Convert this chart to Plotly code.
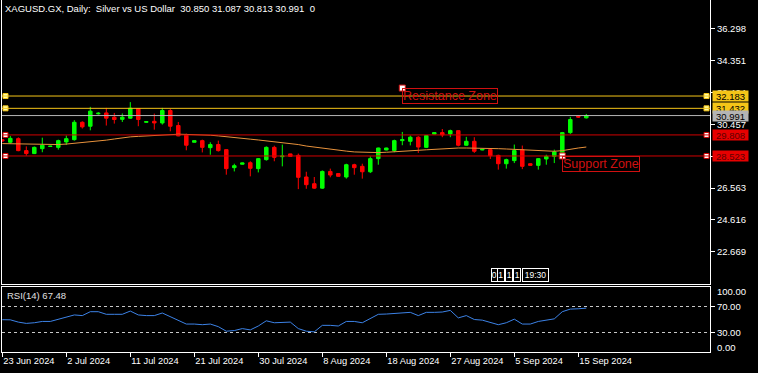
import plotly.graph_objects as go

# ---------------- data ----------------
tick_idx = [0, 8, 16, 24, 32, 40, 48, 56, 64, 72]
tick_labels = ["23 Jun 2024", "2 Jul 2024", "11 Jul 2024", "21 Jul 2024", "30 Jul 2024",
               "8 Aug 2024", "18 Aug 2024", "27 Aug 2024", "5 Sep 2024", "15 Sep 2024"]

opens = [29.52, 29.36, 29.58, 28.85, 28.67, 28.97, 29.10, 29.05, 29.38, 29.52,
         30.58, 30.34, 31.10, 31.15, 30.89, 30.76, 30.83, 31.42, 30.58, 30.64,
         30.54, 31.30, 30.38, 29.79, 29.36, 29.46, 29.03, 29.22, 28.91, 27.81,
         28.02, 28.11, 27.75, 28.30, 29.05, 28.48, 28.65, 28.56, 27.24, 26.83,
         26.56, 27.58, 27.45, 27.24, 27.99, 27.89, 27.56, 28.36, 28.89, 28.85,
         29.46, 29.42, 29.67, 29.05, 29.86, 29.95, 29.87, 30.07, 29.18, 29.42,
         28.89, 28.91, 28.56, 28.05, 28.24, 28.91, 28.05, 27.95, 28.34, 28.50,
         28.72, 29.95, 30.95, 30.850]
highs = [29.55, 29.75, 29.66, 29.11, 29.10, 29.64, 29.15, 29.52, 29.77, 30.71,
         30.64, 31.52, 31.20, 31.46, 31.15, 31.12, 31.81, 31.44, 30.66, 31.11,
         31.46, 31.40, 30.60, 29.89, 29.47, 29.52, 29.36, 29.46, 28.93, 28.05,
         28.12, 28.20, 28.40, 29.11, 29.15, 29.22, 28.66, 28.67, 27.56, 27.24,
         27.64, 27.75, 27.47, 28.05, 28.05, 28.05, 28.50, 29.03, 29.03, 29.52,
         29.99, 29.77, 29.73, 29.80, 29.96, 30.17, 30.13, 30.09, 29.69, 29.67,
         28.95, 28.95, 28.60, 28.36, 29.22, 29.16, 28.07, 28.40, 28.60, 28.91,
         29.99, 30.91, 31.01, 31.087]
lows = [29.40, 29.28, 28.81, 28.54, 28.64, 28.75, 29.08, 28.91, 29.20, 29.46,
        30.20, 30.09, 31.05, 30.38, 30.50, 30.60, 30.79, 30.34, 30.55, 30.13,
        30.44, 30.03, 29.73, 28.87, 29.35, 28.74, 28.60, 28.79, 27.38, 27.58,
        28.00, 27.28, 27.52, 28.24, 28.20, 27.89, 28.48, 26.50, 26.52, 26.52,
        26.52, 27.22, 27.26, 27.14, 27.38, 27.14, 27.48, 27.99, 28.87, 28.75,
        29.18, 29.17, 28.71, 29.01, 29.85, 29.67, 29.67, 29.11, 29.16, 28.71,
        28.87, 28.34, 27.69, 27.75, 28.09, 27.72, 27.93, 27.69, 27.99, 28.09,
        28.70, 29.87, 30.85, 30.813]
closes = [29.44, 29.60, 28.85, 28.67, 29.05, 29.18, 29.12, 29.46, 29.58, 30.58,
          30.30, 31.26, 31.13, 30.83, 30.75, 30.89, 31.44, 30.75, 30.62, 30.54,
          31.30, 30.34, 29.75, 29.18, 29.46, 29.05, 29.22, 28.85, 27.75, 27.93,
          28.10, 27.77, 28.36, 29.05, 28.44, 28.52, 28.50, 27.22, 26.77, 26.56,
          27.58, 27.36, 27.28, 27.99, 27.81, 27.56, 28.36, 29.01, 29.01, 29.46,
          29.52, 29.67, 29.07, 29.77, 29.95, 29.81, 30.07, 29.18, 29.42, 28.81,
          28.93, 28.54, 28.05, 28.30, 28.85, 27.89, 27.95, 28.36, 28.50, 28.77,
          29.95, 30.75, 30.90, 30.991]
ma_values = [29.28, 29.27, 29.26, 29.25, 29.22, 29.22, 29.22, 29.22, 29.25, 29.29,
             29.33, 29.37, 29.42, 29.49, 29.56, 29.63, 29.69, 29.72, 29.75, 29.79,
             29.83, 29.85, 29.85, 29.84, 29.83, 29.81, 29.79, 29.75, 29.71, 29.66,
             29.60, 29.55, 29.50, 29.45, 29.40, 29.35, 29.30, 29.22, 29.13, 29.06,
             28.99, 28.93, 28.87, 28.82, 28.77, 28.75, 28.73, 28.73, 28.75, 28.77,
             28.79, 28.83, 28.87, 28.90, 28.93, 28.97, 29.01, 29.01, 29.01, 29.01,
             29.01, 28.99, 28.97, 28.95, 28.93, 28.89, 28.85, 28.83, 28.81, 28.81,
             28.85, 28.95, 29.01, 29.07]
rsi_values = [49.7, 49.5, 46, 44, 45, 47, 47, 50, 53, 57,
              56, 62, 62, 58, 58, 58, 63, 57, 56, 56,
              60, 54, 48, 43, 43, 42, 43, 39, 32, 33,
              36, 34, 40, 48, 45, 46, 46, 36, 32, 31,
              41, 41, 40, 47, 47, 45, 52, 58, 58.4, 59,
              60, 61, 56, 61, 61, 61.5, 64, 52.5, 56, 50,
              49, 46, 42, 45, 50.5, 43, 43, 47, 49, 51,
              62, 66, 66.5, 67.48]

resistance_levels = [32.183, 31.432]
support_levels = [29.808, 28.523]
current_price = 30.991
price_ticks = [22.669, 24.616, 26.563, 28.510, 30.457, 32.404, 34.351, 36.298]
rsi_levels = [70, 30]
rsi_last = 67.48
title_text = "XAGUSD.GX, Daily:\u00a0\u00a0Silver vs US Dollar\u00a0\u00a030.850 31.087 30.813 30.991\u00a0\u00a00"
text_labels = ["Resistance Zone", "Support Zone"]
text_label_x = [50, 70]
text_label_y = [32.67, 28.523]

# ---------------- layout geometry ----------------
W, H = 758, 373
ML, MR, MT, MB = 2, 48, 0, 21
PLOT_W = W - ML - MR
PLOT_H = H - MT - MB
BAR_PX = 8.0
FIRST_BAR_PX = 2.3
x0 = (ML - FIRST_BAR_PX) / BAR_PX
x1 = x0 + PLOT_W / BAR_PX
xr = [x0, x1]
yr_main = [20.707, 38.046]
main_bottom_px = 284
rsi_top_px = 287
main_dom = [(H - MB - main_bottom_px) / PLOT_H, 1]
rsi_dom = [0, (H - MB - rsi_top_px) / PLOT_H]

FONT = "Liberation Sans, Arial, sans-serif"
YELLOW = "#f5c518"
RED = "#d00000"
BULL = "#00ff00"
BEAR = "#ff0000"

n = len(opens)
xs = list(range(n))

fig = go.Figure()

fig.add_trace(go.Candlestick(
    x=xs, open=opens, high=highs, low=lows, close=closes,
    increasing=dict(line=dict(color=BULL, width=1), fillcolor=BULL),
    decreasing=dict(line=dict(color=BEAR, width=1), fillcolor=BEAR),
    whiskerwidth=0, showlegend=False, hoverinfo="skip", xaxis="x", yaxis="y"))

fig.add_trace(go.Scatter(x=xs, y=ma_values, mode="lines",
                         line=dict(color="#e8923c", width=1),
                         showlegend=False, hoverinfo="skip", xaxis="x", yaxis="y"))

fig.add_trace(go.Scatter(x=xs, y=rsi_values, mode="lines",
                         line=dict(color="#3c82e6", width=1),
                         showlegend=False, hoverinfo="skip", xaxis="x2", yaxis="y2"))

shapes = []
annotations = []

# horizontal level lines
levels = [(v, YELLOW, "#ffffa8", YELLOW, "#000000") for v in resistance_levels] + \
         [(v, RED, "#ffffff", "#e60000", "#600000") for v in support_levels]
sq_x = [xr[0] + 3.5 / BAR_PX, xr[1] - 3.5 / BAR_PX]
for v, lc, sqfill, bg, fc in levels:
    shapes.append(dict(type="line", xref="paper", x0=0, x1=1, yref="y", y0=v, y1=v,
                       line=dict(color=lc, width=1), layer="above"))
    fig.add_trace(go.Scatter(x=sq_x, y=[v, v], mode="markers",
                             marker=dict(symbol="square", size=5, color=sqfill,
                                         line=dict(color=lc, width=1)),
                             showlegend=False, hoverinfo="skip", xaxis="x", yaxis="y",
                             cliponaxis=False))
    annotations.append(dict(xref="paper", x=1, xanchor="left", xshift=2, yref="y", y=v,
                            yanchor="middle", text=f"{v:.3f}", showarrow=False,
                            bgcolor=bg, font=dict(family=FONT, size=9.5, color=fc),
                            width=35, height=10, borderpad=0))

# current price line
shapes.append(dict(type="line", xref="paper", x0=0, x1=1, yref="y", y0=current_price,
                   y1=current_price, line=dict(color="#b4b4b4", width=1), layer="above"))
annotations.append(dict(xref="paper", x=1, xanchor="left", xshift=2, yref="y", y=current_price,
                        yanchor="middle", text=f"{current_price:.3f}", showarrow=False,
                        bgcolor="#b4b4b4", font=dict(family=FONT, size=9.5, color="#000000"),
                        width=35, height=10, borderpad=0))

# text label objects
for t, tx, ty in zip(text_labels, text_label_x, text_label_y):
    annotations.append(dict(xref="x", yref="y", x=tx, y=ty, xanchor="left", yanchor="top",
                            text=t, showarrow=False,
                            font=dict(family=FONT, size=12.5, color="#d01010"),
                            bordercolor="#d01010", borderwidth=1, borderpad=0))
fig.add_trace(go.Scatter(x=text_label_x, y=text_label_y, mode="markers",
                         marker=dict(symbol="square", size=6, color="#ffffff",
                                     line=dict(color="#d01010", width=1)),
                         showlegend=False, hoverinfo="skip", xaxis="x", yaxis="y"))

# RSI levels
for lv in rsi_levels:
    shapes.append(dict(type="line", xref="paper", x0=0, x1=1, yref="y2", y0=lv, y1=lv,
                       line=dict(color="#c8c8c8", width=1, dash="3px,3px"), layer="below"))

# title
annotations.append(dict(xref="paper", yref="paper", x=0, y=1, xanchor="left", yanchor="top",
                        xshift=1, yshift=-1, text=title_text, showarrow=False,
                        font=dict(family=FONT, size=9.5, color="#ffffff")))
# RSI caption
annotations.append(dict(xref="paper", yref="paper", x=0, y=rsi_dom[1], xanchor="left",
                        yanchor="top", xshift=3, yshift=-1,
                        text=f"RSI(14) {rsi_last:.2f}", showarrow=False,
                        font=dict(family=FONT, size=9.5, color="#e0e0e0")))
# RSI 100 / 0 labels
for val, ysh in [(100, -4), (0, 5)]:
    annotations.append(dict(xref="paper", yref="y2", x=1, y=val, xanchor="left",
                            yanchor="middle", xshift=5, yshift=ysh,
                            text=f"{val:.2f}", showarrow=False,
                            font=dict(family=FONT, size=9.5, color="#ffffff")))

# countdown widget
def px2paper_x(px):
    return (px - ML) / PLOT_W

def px2paper_y(py):
    return (H - MB - py) / PLOT_H

widget_items = [("0", 490.7, 497.3), ("1", 497.3, 505.0), ("1", 505.0, 513.3),
                ("1", 513.3, 521.7), ("19:30", 522.0, 549.0)]
for t, a, b in widget_items:
    annotations.append(dict(xref="paper", yref="paper", x=px2paper_x(a), y=px2paper_y(268),
                            xanchor="left", yanchor="top", text=t, showarrow=False,
                            width=b - a - 2, height=12, bgcolor="#000000",
                            bordercolor="#ffffff", borderwidth=1, borderpad=0,
                            font=dict(family=FONT, size=8.5, color="#ffffff")))

axis_common = dict(showgrid=False, zeroline=False, linecolor="#ffffff", linewidth=1)

fig.update_layout(
    width=W, height=H,
    margin=dict(l=ML, r=MR, t=MT, b=MB),
    paper_bgcolor="#000000", plot_bgcolor="#000000",
    showlegend=False,
    boxgap=0.375,
    shapes=shapes, annotations=annotations,
    xaxis=dict(domain=[0, 1], range=xr, anchor="y", showticklabels=False, ticks="",
               showline=True, mirror=False, rangeslider=dict(visible=False),
               fixedrange=True, **axis_common),
    xaxis2=dict(domain=[0, 1], range=xr, anchor="y2", tickmode="array",
                tickvals=tick_idx, ticktext=tick_labels, ticks="outside", ticklen=4,
                tickcolor="#ffffff", ticklabelposition="outside right",
                tickfont=dict(family=FONT, size=9.3, color="#ffffff"),
                showline=True, mirror=True, fixedrange=True, **axis_common),
    yaxis=dict(domain=main_dom, range=yr_main, anchor="x", side="right",
               tickmode="array", tickvals=price_ticks,
               ticktext=[f"{v:.3f}" for v in price_ticks], ticks="outside", ticklen=4,
               tickcolor="#ffffff", tickfont=dict(family=FONT, size=9.5, color="#ffffff"),
               showline=True, mirror=True, fixedrange=True, **axis_common),
    yaxis2=dict(domain=rsi_dom, range=[0, 100], anchor="x2", side="right",
                tickmode="array", tickvals=rsi_levels,
                ticktext=[f"{v:.2f}" for v in rsi_levels], ticks="outside", ticklen=4,
                tickcolor="#ffffff", tickfont=dict(family=FONT, size=9.5, color="#ffffff"),
                showline=True, mirror=True, fixedrange=True, **axis_common),
)

fig.write_html("out.html")
